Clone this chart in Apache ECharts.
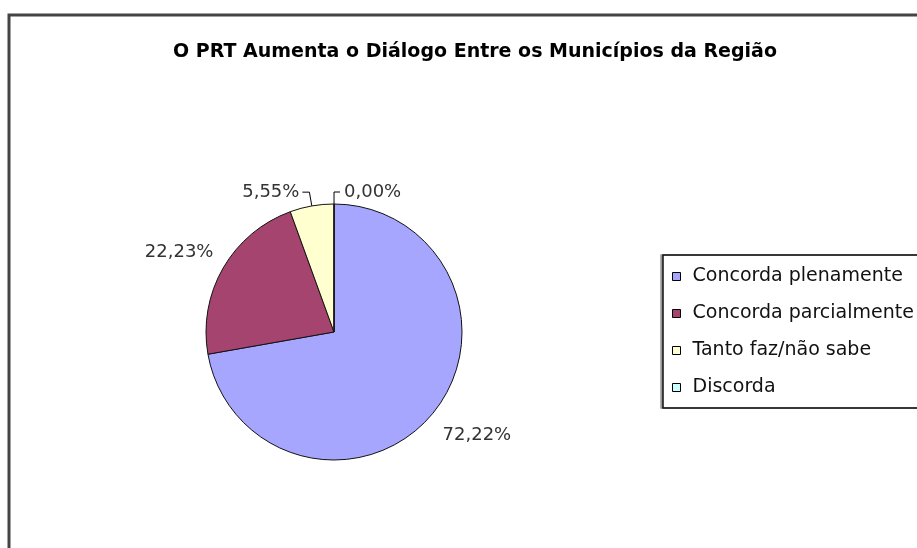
<!DOCTYPE html>
<html>
<head>
<meta charset="utf-8">
<script src="https://cdn.jsdelivr.net/npm/echarts@6/dist/echarts.min.js"></script>
<style>
  html, body { margin: 0; padding: 0; background: #fff; }
  #chart { width: 917px; height: 548px; }
</style>
</head>
<body>
<div id="chart"></div>
<script>
const categories = ['Concorda plenamente', 'Concorda parcialmente', 'Tanto faz/não sabe', 'Discorda'];
const values = [72.22, 22.23, 5.55, 0.00];
const colors = ['#a6a6ff', '#a5456f', '#ffffd0', '#ccffff'];

// label placement tweaks, one per slice (Excel-like positions)
const labelTweaks = [
  { line: false, len: 32, len2: 0, dist: -14 },
  { line: false, len: 32, len2: 0, dist: -18 },
  { line: true, len: 14, len2: 7, dist: 3 },
  { line: true, len: 12, len2: 6, dist: 4 }
];

const chart = echarts.init(document.getElementById('chart'));

const pieData = categories.map((c, i) => ({
  name: c,
  value: values[i],
  label: { distanceToLabelLine: labelTweaks[i].dist },
  labelLine: {
    show: labelTweaks[i].line,
    length: labelTweaks[i].len,
    length2: labelTweaks[i].len2
  }
}));

const option = {
  animation: false,
  color: colors,
  title: {
    text: 'O PRT Aumenta o Diálogo Entre os Municípios da Região',
    left: 470,
    top: 38,
    textAlign: 'center',
    textStyle: {
      fontFamily: 'DejaVu Sans',
      fontSize: 19,
      fontWeight: 'bold',
      color: '#000'
    }
  },
  legend: {
    orient: 'vertical',
    left: 663,
    top: 255,
    data: categories,
    itemWidth: 8,
    itemHeight: 8,
    itemGap: 18,
    icon: 'rect',
    padding: [12, 60, 11, 9],
    backgroundColor: '#fff',
    borderColor: '#111',
    borderWidth: 1.5,
    shadowColor: '#999',
    shadowBlur: 0,
    shadowOffsetX: -2,
    shadowOffsetY: 0,
    itemStyle: { borderColor: '#000', borderWidth: 1 },
    textStyle: {
      fontFamily: 'DejaVu Sans',
      fontSize: 19,
      color: '#111',
      padding: [0, 0, 0, 7]
    }
  },
  graphic: [
    {
      type: 'rect',
      shape: { x: 9, y: 15, width: 940, height: 560 },
      style: { fill: 'none', stroke: '#444', lineWidth: 3 },
      silent: true
    }
  ],
  series: [
    {
      type: 'pie',
      center: [334, 332],
      radius: 128,
      startAngle: 89.99,
      clockwise: true,
      avoidLabelOverlap: false,
      data: pieData,
      itemStyle: { borderColor: '#111', borderWidth: 1 },
      label: {
        position: 'outside',
        formatter: p => p.value.toFixed(2).replace('.', ',') + '%',
        fontFamily: 'DejaVu Sans',
        fontSize: 18,
        color: '#333'
      },
      labelLine: {
        lineStyle: { color: '#000', width: 1 }
      }
    }
  ]
};

chart.setOption(option);
window.addEventListener('resize', () => {
  chart.resize();
});
</script>
</body>
</html>
